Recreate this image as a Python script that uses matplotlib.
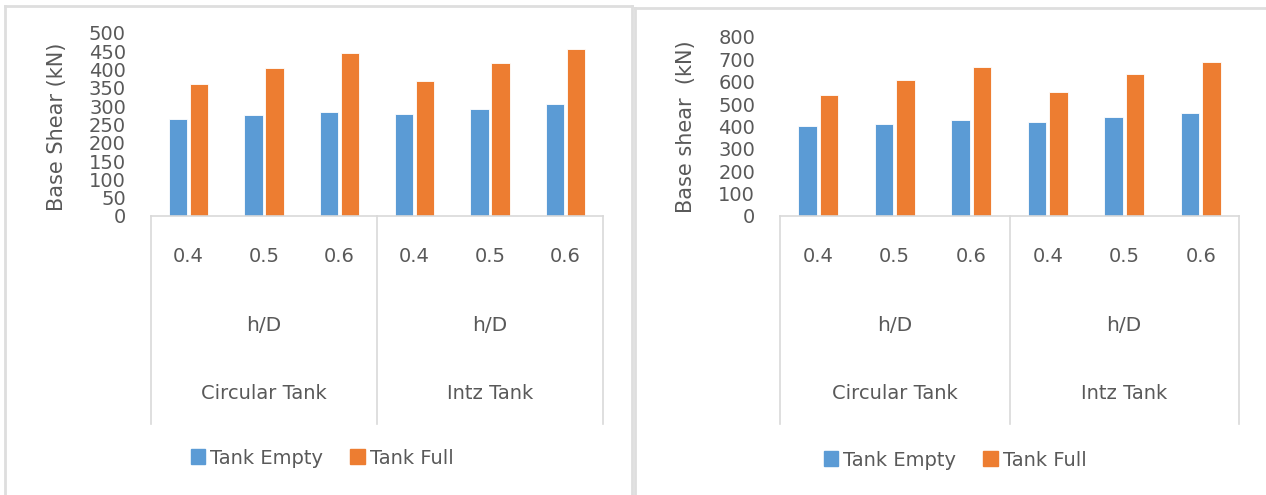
import matplotlib
matplotlib.use("Agg")
import matplotlib.pyplot as plt
from matplotlib.lines import Line2D
from matplotlib.patches import Patch
import numpy as np

plt.rcParams['font.family'] = ['DejaVu Sans']

# base shear values (kN) for each tank type and h/D ratio
tanks = ['Circular Tank', 'Intz Tank']
ratios = ['0.4', '0.5', '0.6']
series = ['Tank Empty', 'Tank Full']

left_empty = [265, 275, 285, 278, 293, 306]
left_full = [360, 405, 445, 370, 418, 457]

right_empty = [400, 411, 428, 421, 444, 461]
right_full = [541, 609, 665, 553, 633, 689]

blue = '#5B9BD5'
orange = '#ED7D31'
txt = '#595959'
grid = '#D9D9D9'

W, H = 1266, 495
fig = plt.figure(figsize=(W / 100, H / 100), dpi=100)


def px(x0, y0, x1, y1):
    # pixel box -> figure fraction rect
    return [x0 / W, 1 - y1 / H, (x1 - x0) / W, (y1 - y0) / H]


def panel_border(x0, y0, x1):
    kw = dict(color='#DEDEDE', lw=2.0, transform=fig.transFigure)
    fig.add_artist(Line2D([x0 / W, x0 / W], [1 - y0 / H, 0], **kw))
    fig.add_artist(Line2D([x0 / W, x1 / W], [1 - y0 / H, 1 - y0 / H], **kw))
    fig.add_artist(Line2D([x1 / W, x1 / W], [1 - y0 / H, 0], **kw))


def draw(box, empty, full, ymax, step, ylabel, ylab_x, leg_x, leg_y):
    x0, y0, x1, y1 = box
    ax = fig.add_axes(px(x0, y0, x1, y1))
    hpx = y1 - y0

    def below(ypix):
        # pixel row under the axes -> axes fraction
        return -(ypix - y1) / hpx

    n = len(empty)
    x = np.arange(n)
    ax.bar(x - 0.14, empty, 0.245, color=blue, edgecolor='white', lw=0.6, label=series[0])
    ax.bar(x + 0.14, full, 0.245, color=orange, edgecolor='white', lw=0.6, label=series[1])
    ax.set_xlim(-0.5, n - 0.5)
    ax.set_ylim(0, ymax)
    ax.set_yticks(np.arange(0, ymax + 1, step))
    ax.tick_params(axis='y', length=0, pad=18, labelsize=14, labelcolor=txt)
    ax.set_xticks([])
    for s in ['top', 'right', 'left']:
        ax.spines[s].set_visible(False)
    ax.spines['bottom'].set_color(grid)
    ax.spines['bottom'].set_linewidth(1.2)

    # multi-level category axis below the bars
    tr = ax.get_xaxis_transform()
    for xv in [-0.5, 2.5, 5.5]:
        ax.plot([xv, xv], [0, below(424)], color=grid, lw=1.2, transform=tr, clip_on=False)
    for i in range(n):
        ax.text(i, below(257), ratios[i % 3], transform=tr, ha='center', va='center',
                fontsize=14, color=txt)
    for g, name in enumerate(tanks):
        ax.text(3 * g + 1, below(326), 'h/D', transform=tr, ha='center', va='center',
                fontsize=14.5, color=txt)
        ax.text(3 * g + 1, below(394), name, transform=tr, ha='center', va='center',
                fontsize=14, color=txt)

    fig.text(ylab_x / W, 1 - 127 / H, ylabel, rotation=90, ha='center', va='center',
             fontsize=15, color=txt)

    handles = [Patch(color=blue), Patch(color=orange)]
    fig.legend(handles, series, loc='center', bbox_to_anchor=(leg_x / W, 1 - leg_y / H),
               ncol=2, frameon=False, fontsize=14, labelcolor=txt,
               handlelength=0.75, handleheight=0.8, handletextpad=0.25, columnspacing=1.4)
    return ax


panel_border(5, 6, 632)
panel_border(635, 8, 1267)

draw((151, 33, 603, 216), left_empty, left_full, 500, 50,
     'Base Shear (kN)', 57, 322, 458)
draw((780, 37, 1239, 216), right_empty, right_full, 800, 100,
     'Base shear  (kN)', 686, 955, 460)

fig.savefig('out.png', dpi=100)
